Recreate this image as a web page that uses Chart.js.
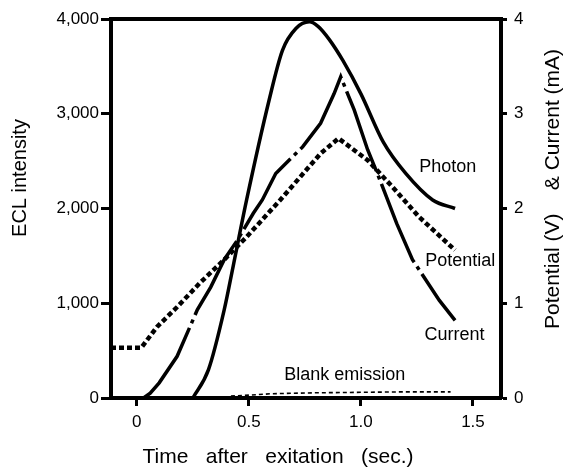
<!DOCTYPE html>
<html>
<head>
<meta charset="utf-8">
<script src="https://cdn.jsdelivr.net/npm/chart.js@4/dist/chart.umd.min.js"></script>
<style>
  html, body { margin: 0; padding: 0; background: #fff; }
  #myChart { display: block; }
</style>
</head>
<body>
<canvas id="myChart" width="567" height="475"></canvas>
<script>
// x axis ticks
const xTickVals = [0, 0.5, 1.0, 1.5];
const xTickLabels = ["0", "0.5", "1.0", "1.5"];

// Photon (ECL intensity, left axis)
const photonX = [0.25, 0.32, 0.39, 0.43, 0.49, 0.59, 0.65, 0.71, 0.77, 0.81, 0.86, 0.92, 1.0, 1.1, 1.2, 1.32, 1.42];
const photonY = [0, 300, 930, 1390, 2090, 3140, 3670, 3900, 3970, 3920, 3780, 3560, 3210, 2700, 2370, 2090, 2000];

// Current (mA, right axis)
const currentX = [0.03, 0.06, 0.10, 0.18, 0.27, 0.33, 0.39, 0.45, 0.52, 0.56, 0.62, 0.74, 0.82, 0.88, 0.91, 0.97, 1.03, 1.08, 1.16, 1.23, 1.35, 1.42];
const currentY = [0, 0.05, 0.16, 0.44, 0.93, 1.17, 1.46, 1.67, 1.95, 2.09, 2.37, 2.65, 2.90, 3.21, 3.39, 3.04, 2.62, 2.33, 1.84, 1.46, 1.03, 0.82];

// Potential (V, right axis)
const potentialX = [-0.115, 0.02, 0.09, 0.18, 0.28, 0.39, 0.49, 0.64, 0.82, 0.90, 1.03, 1.14, 1.26, 1.42];
const potentialY = [0.53, 0.53, 0.75, 0.96, 1.21, 1.46, 1.70, 2.09, 2.58, 2.74, 2.51, 2.23, 1.91, 1.56];

// Blank emission (left axis)
const blankX = [0.42, 0.5, 0.6, 0.8, 1.0, 1.2, 1.4];
const blankY = [20, 30, 45, 55, 60, 65, 65];

// curve labels (x, right-axis y)
const labelText = ["Photon", "Potential", "Current", "Blank emission"];
const labelX = [1.387, 1.443, 1.418, 0.928];
const labelY = [2.44, 1.445, 0.665, 0.243];

const FONT = "'Liberation Sans', Arial, Helvetica, sans-serif";

const toPts = (xs, ys) => xs.map((x, i) => ({ x: x, y: ys[i] }));

const extras = {
  id: "extras",
  afterDraw(chart) {
    const ctx = chart.ctx;
    const a = chart.chartArea;
    const sx = chart.scales.x;
    const sy2 = chart.scales.y2;
    ctx.save();
    // top frame line
    ctx.strokeStyle = "#000";
    ctx.lineWidth = 4;
    ctx.beginPath();
    ctx.moveTo(a.left - 2, a.top);
    ctx.lineTo(a.right + 2, a.top);
    ctx.stroke();

    ctx.fillStyle = "#000";
    ctx.textAlign = "center";
    ctx.textBaseline = "middle";

    // curve labels
    ctx.font = "18px " + FONT;
    labelText.forEach((t, i) => {
      ctx.fillText(t, sx.getPixelForValue(labelX[i]), sy2.getPixelForValue(labelY[i]));
    });

    // axis titles
    ctx.font = "21px " + FONT;
    ctx.fillText("Time   after   exitation   (sec.)", 278, 457);

    ctx.font = "20px " + FONT;
    ctx.save();
    ctx.translate(20, 178);
    ctx.rotate(-Math.PI / 2);
    ctx.fillText("ECL intensity", 0, 0);
    ctx.restore();

    ctx.font = "21px " + FONT;
    ctx.save();
    ctx.translate(553, 189);
    ctx.rotate(-Math.PI / 2);
    ctx.fillText("Potential (V)    & Current (mA)", 0, 0);
    ctx.restore();

    ctx.restore();
  },
};

const ctx = document.getElementById("myChart");
const myChart = new Chart(ctx, {
  type: "line",
  data: {
    datasets: [
      {
        label: "Photon",
        data: toPts(photonX, photonY),
        yAxisID: "y",
        borderColor: "#000",
        borderWidth: 3.5,
        pointRadius: 0,
        cubicInterpolationMode: "monotone",
      },
      {
        label: "Current",
        data: toPts(currentX, currentY),
        yAxisID: "y2",
        borderColor: "#000",
        borderWidth: 3.5,
        borderDash: [85, 5, 4, 5],
        pointRadius: 0,
        tension: 0,
      },
      {
        label: "Potential",
        data: toPts(potentialX, potentialY),
        yAxisID: "y2",
        borderColor: "#000",
        borderWidth: 4.5,
        borderDash: [5, 3],
        borderCapStyle: "butt",
        pointRadius: 0,
        tension: 0,
      },
      {
        label: "Blank emission",
        data: toPts(blankX, blankY),
        yAxisID: "y",
        borderColor: "#000",
        borderWidth: 1.6,
        borderDash: [4, 3],
        pointRadius: 0,
        tension: 0,
      },
    ],
  },
  options: {
    responsive: false,
    animation: false,
    devicePixelRatio: 1,
    layout: { padding: { top: 19, left: 0, right: 0, bottom: 0 } },
    plugins: {
      legend: { display: false },
      tooltip: { enabled: false },
    },
    scales: {
      x: {
        type: "linear",
        position: "bottom",
        min: -0.115,
        max: 1.625,
        afterFit: (s) => { s.height = 77; },
        afterBuildTicks: (s) => { s.ticks = xTickVals.map((v) => ({ value: v })); },
        ticks: {
          color: "#000",
          font: { family: FONT, size: 17 },
          padding: 6,
          maxRotation: 0,
          autoSkip: false,
          callback: (v, i) => xTickLabels[i],
        },
        grid: { drawOnChartArea: false, tickLength: 8, tickWidth: 3, tickColor: "#000" },
        border: { color: "#000", width: 4 },
      },
      y: {
        position: "left",
        min: 0,
        max: 4000,
        afterFit: (s) => { s.width = 111; },
        ticks: {
          stepSize: 1000,
          color: "#000",
          font: { family: FONT, size: 17 },
          padding: 2,
          callback: (v) => v.toLocaleString("en-US"),
        },
        grid: { drawOnChartArea: false, tickLength: 10, tickWidth: 3, tickColor: "#000" },
        border: { color: "#000", width: 4 },
      },
      y2: {
        position: "right",
        min: 0,
        max: 4,
        afterFit: (s) => { s.width = 66; },
        ticks: {
          stepSize: 1,
          color: "#000",
          font: { family: FONT, size: 17 },
          padding: 7,
        },
        grid: { drawOnChartArea: false, tickLength: 6, tickWidth: 3, tickColor: "#000" },
        border: { color: "#000", width: 4 },
      },
    },
  },
  plugins: [extras],
});
</script>
</body>
</html>
